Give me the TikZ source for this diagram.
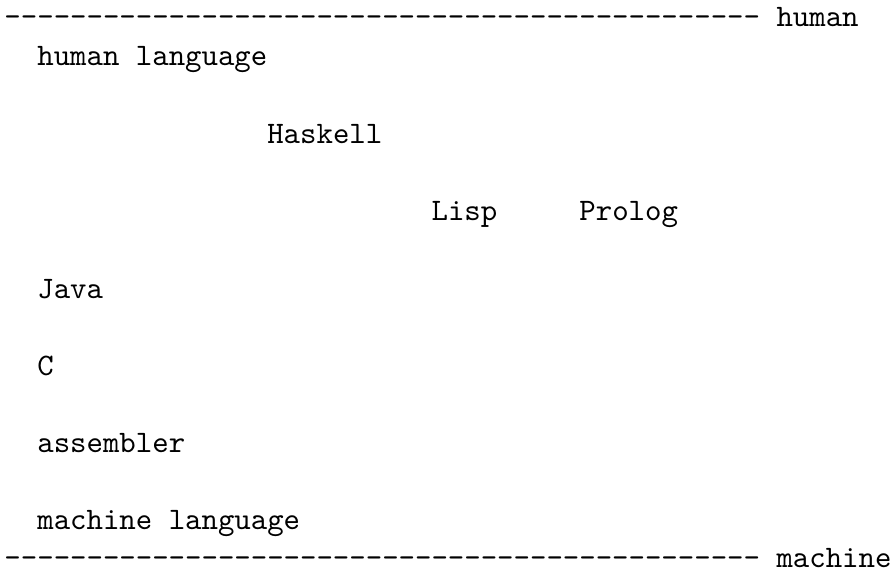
\documentclass[tikz,border=0pt]{standalone}
% a row of 46 typewriter hyphens, kept apart so no dash ligature forms
\newcommand\hyphenrow{\foreach\k in {1,...,46}{\hbox{-}}}
\begin{document}
\begin{tikzpicture}[x=0.35pt,y=-0.35pt,
  tt/.style={anchor=base west,inner sep=0pt,outer sep=0pt,
    font=\fontsize{10.95}{13.6}\selectfont\ttfamily}]
\useasboundingbox (0,0) rectangle (892,569);
% column pitch of the typewriter font and left edge of column 0
\def\pitch{16.426}
\def\xo{4.5}
% scale top
\node[tt] (topdash)  at (\xo, 26.3) {\hyphenrow};
\node[tt] (toplabel) at (\xo+47*\pitch, 26.3) {human};
% languages
\node[tt] (humanlang) at (\xo+2*\pitch, 65) {human language};
\node[tt] (haskell)   at (\xo+16*\pitch, 143.3) {Haskell};
\node[tt] (lisp)      at (\xo+26*\pitch, 220.6) {Lisp};
\node[tt] (prolog)    at (\xo+35*\pitch, 220.6) {Prolog};
\node[tt] (java)      at (\xo+2*\pitch, 298) {Java};
\node[tt] (clang)     at (\xo+2*\pitch, 375.3) {C};
\node[tt] (asm)       at (\xo+2*\pitch, 452) {assembler};
\node[tt] (machlang)  at (\xo+2*\pitch, 529) {machine language};
% scale bottom
\node[tt] (botdash)  at (\xo, 567.7) {\hyphenrow};
\node[tt] (botlabel) at (\xo+47*\pitch, 567.7) {machine};
\end{tikzpicture}
\end{document}
